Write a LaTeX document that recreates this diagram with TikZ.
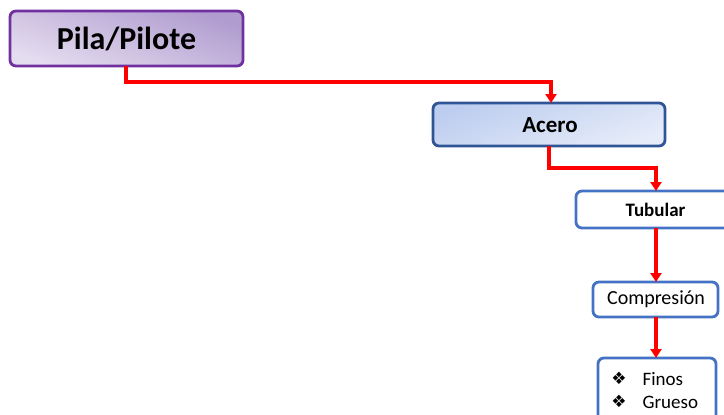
\documentclass[tikz,border=0pt]{standalone}
\usepackage{fontspec}
\setmainfont{Carlito}
\newfontfamily\symfont{DejaVu Sans}
\usetikzlibrary{arrows.meta}
\definecolor{purpleedge}{HTML}{7030A0}
\definecolor{lavdark}{HTML}{B09CCF}
\definecolor{lavlight}{HTML}{E4DCEF}
\definecolor{blueedge}{HTML}{2F5597}
\definecolor{bluemid}{HTML}{4472C4}
\definecolor{bluedark}{HTML}{BDCDEF}
\definecolor{bluelight}{HTML}{E6ECF9}
\definecolor{linkred}{HTML}{FF0000}
\tikzset{
  box/.style={rounded corners=6pt, line width=2.8pt, inner sep=0pt, align=center},
  link/.style={draw=linkred, line width=3.2pt, -{Triangle[length=9pt,width=11pt]}},
  bullet/.style={font=\symfont\fontsize{17}{19}\selectfont},
}
\begin{document}
\begin{tikzpicture}[x=1pt,y=-1pt]
\useasboundingbox (0,0) rectangle (724,415);
% top level box
\shade[box, draw=purpleedge, top color=lavdark, bottom color=lavlight, shading angle=-20]
  (10,11) rectangle (243,66);
\node[font=\fontsize{32}{36}\selectfont\bfseries] (pila) at (126.5,39) {Pila/Pilote};
\coordinate (pilaS) at (126,66);
% material box
\shade[box, draw=blueedge, top color=bluedark, bottom color=bluelight, shading angle=20]
  (433,103) rectangle (665,146);
\node[font=\fontsize{23}{26}\selectfont\bfseries] (acero) at (550,125) {Acero};
\coordinate (aceroN) at (551,103);
\coordinate (aceroS) at (549,146);
% section box
\draw[box, draw=bluemid, fill=white] (576,191) rectangle (740,228);
\node[font=\fontsize{19}{22}\selectfont\bfseries] (tub) at (655.5,210) {Tubular};
\coordinate (tubN) at (656,191);
\coordinate (tubS) at (656,228);
% load box
\draw[box, draw=bluemid, fill=white] (593,282) rectangle (718,317);
\node[font=\fontsize{20}{23}\selectfont] (comp) at (656,299.5) {Compresión};
\coordinate (compN) at (656,282);
\coordinate (compS) at (656,317);
% soil box
\draw[box, draw=bluemid, fill=white] (598,358) rectangle (716,430);
\coordinate (soilN) at (656,358);
\node[bullet] (b1) at (619,378.5) {❖};
\node[bullet] (b2) at (619,401.5) {❖};
\node[font=\fontsize{19}{22}\selectfont, anchor=base west] (finos) at (639,385) {Finos};
\node[font=\fontsize{19}{22}\selectfont, anchor=base west] (grueso) at (639,408) {Grueso};
% connectors
\draw[link] (pilaS) |- (339,82) -| (aceroN);
\draw[link] (aceroS) |- (600,168) -| (tubN);
\draw[link] (tubS) -- (compN);
\draw[link] (compS) -- (soilN);
\end{tikzpicture}
\end{document}
